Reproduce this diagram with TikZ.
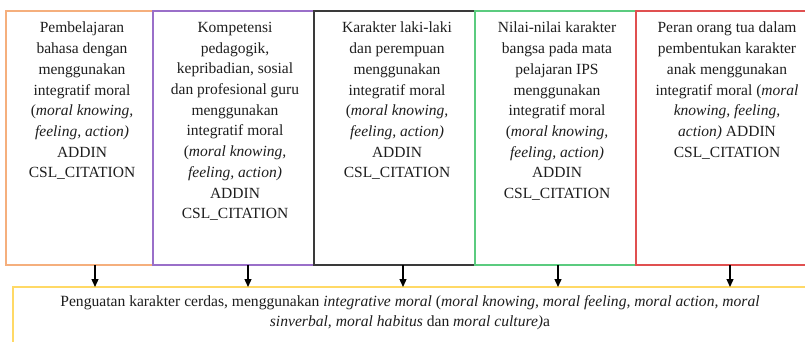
\documentclass[tikz,border=0pt]{standalone}
\usepackage{fontspec}
\setmainfont{Liberation Serif}
\usetikzlibrary{arrows.meta}
\definecolor{cOrange}{HTML}{F5AF7D}
\definecolor{cPurple}{HTML}{9A6FC9}
\definecolor{cDark}{HTML}{3A3A3A}
\definecolor{cGreen}{HTML}{5BCB7F}
\definecolor{cRed}{HTML}{E05050}
\definecolor{cYellow}{HTML}{FFD966}
\definecolor{cText}{HTML}{1E1E1E}
\tikzset{
  panel/.style={draw, line width=1.4pt, rectangle, inner sep=0pt, outer sep=0pt,
    minimum height=254pt},
  paneltext/.style={anchor=north, inner sep=0pt, align=center, text=cText,
    font=\fontsize{15.5}{20.7}\selectfont},
  restext/.style={inner sep=0pt, align=center, text=cText,
    font=\fontsize{15.6}{20}\selectfont},
  arr/.style={line width=1.3pt, draw=black, -{Triangle[length=8pt,width=7pt]}},
}
\begin{document}
\begin{tikzpicture}[x=1pt,y=1pt]
\useasboundingbox (0,0) rectangle (805,-341);
\fill[white] (0,0) rectangle (805,-341);

% five source panels, drawn left to right so shared edges take the later colour
\node[panel, draw=cOrange, minimum width=147pt] (b1) at (79.5,-138) {};
\node[panel, draw=cPurple, minimum width=161pt] (b2) at (233.5,-138) {};
\node[panel, draw=cDark,   minimum width=161pt] (b3) at (394.5,-138) {};
\node[panel, draw=cGreen,  minimum width=161pt] (b4) at (555.5,-138) {};
\node[panel, draw=cRed,    minimum width=182pt] (b5) at (727,-138) {};

% result panel
\node[draw=cYellow, line width=1.6pt, rectangle, inner sep=0pt, outer sep=0pt,
      minimum width=807pt, minimum height=74pt] (out) at (416.5,-324) {};

% panel texts
\node[paneltext] (t1) at (82,-22) {Pembelajaran\\bahasa dengan\\menggunakan\\integratif moral\\(\textit{moral knowing,}\\\textit{feeling, action)}\\ADDIN\\CSL\_CITATION};
\node[paneltext] (t2) at (235,-22) {Kompetensi\\pedagogik,\\kepribadian, sosial\\dan profesional guru\\menggunakan\\integratif moral\\(\textit{moral knowing,}\\\textit{feeling, action)}\\ADDIN\\CSL\_CITATION};
\node[paneltext] (t3) at (397,-22) {Karakter laki-laki\\dan perempuan\\menggunakan\\integratif moral\\(\textit{moral knowing,}\\\textit{feeling, action)}\\ADDIN\\CSL\_CITATION};
\node[paneltext] (t4) at (557,-22) {Nilai-nilai karakter\\bangsa pada mata\\pelajaran IPS\\menggunakan\\integratif moral\\(\textit{moral knowing,}\\\textit{feeling, action)}\\ADDIN\\CSL\_CITATION};
\node[paneltext] (t5) at (727,-22) {Peran orang tua dalam\\pembentukan karakter\\anak menggunakan\\integratif moral (\textit{moral}\\\textit{knowing, feeling,}\\\textit{action)} ADDIN\\CSL\_CITATION};

\node[restext] (rt) at (410,-313) {Penguatan karakter cerdas, menggunakan \textit{integrative moral} (\textit{moral knowing, moral feeling, moral action, moral}\\\textit{sinverbal, moral habitus} dan \textit{moral culture)}a};

% connectors into the result panel
\draw[arr] ([xshift=15.5pt]b1.south) -- ([xshift=15.5pt]b1.south |- out.north);
\draw[arr] ([xshift=14.5pt]b2.south) -- ([xshift=14.5pt]b2.south |- out.north);
\draw[arr] ([xshift=8.5pt]b3.south) -- ([xshift=8.5pt]b3.south |- out.north);
\draw[arr] ([xshift=2.5pt]b4.south) -- ([xshift=2.5pt]b4.south |- out.north);
\draw[arr] ([xshift=3pt]b5.south) -- ([xshift=3pt]b5.south |- out.north);
\end{tikzpicture}
\end{document}
